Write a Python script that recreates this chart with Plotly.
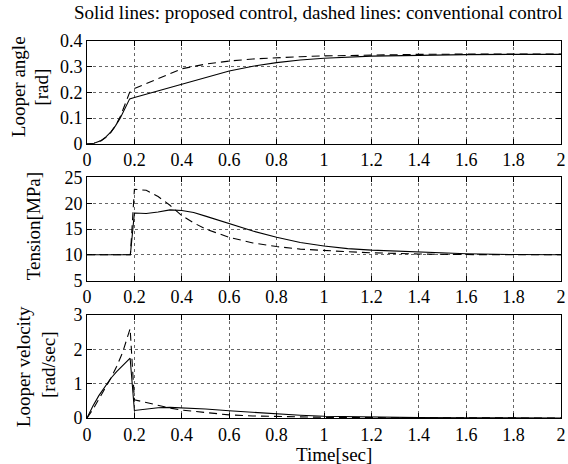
import plotly.graph_objects as go

# ---------------- data ----------------
t_ang = [0, 0.03, 0.06, 0.08, 0.10, 0.12, 0.14, 0.16, 0.18, 0.20, 0.30, 0.40, 0.50,
         0.60, 0.70, 0.80, 0.90, 1.00, 1.20, 1.40, 1.60, 1.80, 2.00]
ang_solid = [0, 0.002, 0.013, 0.027, 0.046, 0.070, 0.100, 0.135, 0.175, 0.180, 0.206,
             0.232, 0.260, 0.283, 0.302, 0.316, 0.326, 0.333, 0.341, 0.345, 0.347, 0.348, 0.348]
ang_dashed = [0, 0.002, 0.012, 0.025, 0.044, 0.070, 0.105, 0.150, 0.200, 0.215, 0.255,
              0.292, 0.310, 0.322, 0.330, 0.335, 0.339, 0.342, 0.346, 0.348, 0.349, 0.349, 0.349]

t_ten = [0, 0.183, 0.20, 0.25, 0.30, 0.35, 0.40, 0.45, 0.50, 0.60, 0.70, 0.80, 0.90,
         1.00, 1.10, 1.20, 1.40, 1.60, 1.80, 2.00]
ten_solid = [10, 10, 18.1, 18.0, 18.3, 18.7, 18.6, 18.2, 17.5, 16.0, 14.6, 13.4, 12.4,
             11.7, 11.2, 10.9, 10.5, 10.2, 10.05, 10.0]
ten_dashed = [10, 10, 22.7, 22.5, 21.3, 19.6, 17.6, 16.2, 15.0, 13.4, 12.3, 11.6, 11.1,
              10.8, 10.6, 10.4, 10.15, 10.05, 10.0, 10.0]

t_vel = [0, 0.025, 0.05, 0.075, 0.10, 0.125, 0.15, 0.182, 0.20, 0.25, 0.30, 0.35, 0.40,
         0.50, 0.60, 0.70, 0.80, 0.90, 1.00, 1.20, 1.40, 1.60, 2.00]
vel_solid = [0, 0.35, 0.65, 0.92, 1.15, 1.35, 1.52, 1.74, 0.22, 0.27, 0.30, 0.31, 0.30,
             0.26, 0.21, 0.16, 0.12, 0.08, 0.05, 0.02, 0.01, 0.005, 0]
vel_dashed = [0, 0.25, 0.55, 0.85, 1.15, 1.50, 1.90, 2.60, 0.53, 0.45, 0.36, 0.29, 0.23,
              0.15, 0.09, 0.06, 0.04, 0.03, 0.02, 0.01, 0.005, 0, 0]

x_ticks = [0, 0.2, 0.4, 0.6, 0.8, 1, 1.2, 1.4, 1.6, 1.8, 2]
x_ticklabels = ["0", "0.2", "0.4", "0.6", "0.8", "1", "1.2", "1.4", "1.6", "1.8", "2"]
y1_ticks = [0, 0.1, 0.2, 0.3, 0.4]
y1_ticklabels = ["0", "0.1", "0.2", "0.3", "0.4"]
y2_ticks = [5, 10, 15, 20, 25]
y3_ticks = [0, 1, 2, 3]

title_text = "Solid lines: proposed control, dashed lines: conventional control"
xlabel = "Time[sec]"

# ---------------- figure ----------------
FONT = "Liberation Serif"
TICKFONT = "Times New Roman"
fig = go.Figure()

def add_pair(t, ys, yd, xa, ya):
    fig.add_trace(go.Scatter(x=t, y=ys, mode="lines", xaxis=xa, yaxis=ya,
                             line=dict(color="black", width=1.1), showlegend=False))
    fig.add_trace(go.Scatter(x=t, y=yd, mode="lines", xaxis=xa, yaxis=ya,
                             line=dict(color="black", width=1.1, dash="8px,5px"), showlegend=False))

add_pair(t_ang, ang_solid, ang_dashed, "x", "y")
add_pair(t_ten, ten_solid, ten_dashed, "x2", "y2")
add_pair(t_vel, vel_solid, vel_dashed, "x3", "y3")

axis_common = dict(showline=True, linecolor="black", linewidth=1, mirror="ticks",
                   ticks="inside", ticklen=5, tickcolor="black", tickwidth=1,
                   showgrid=True, gridcolor="#666", griddash="dot", gridwidth=1,
                   zeroline=False, ticklabeloverflow="allow",
                   tickfont=dict(family=TICKFONT, size=18, color="black"))

doms = [(0.7272, 1.0), (0.3644, 0.6382), (0.0, 0.2736)]
layout = dict(width=568, height=464, plot_bgcolor="white", paper_bgcolor="white",
              margin=dict(l=87, r=2, t=41, b=46), showlegend=False,
              font=dict(family=FONT, size=19, color="black"))
for i, (d0, d1) in enumerate(doms):
    sfx = "" if i == 0 else str(i + 1)
    anchor_y = "y" + sfx
    layout["xaxis" + sfx] = dict(axis_common, range=[0, 2], domain=[0, 1], anchor=anchor_y,
                                 tickvals=x_ticks, ticktext=x_ticklabels)
layout["yaxis"] = dict(axis_common, range=[0, 0.4], domain=list(doms[0]), anchor="x",
                       tickvals=y1_ticks, ticktext=y1_ticklabels)
layout["yaxis2"] = dict(axis_common, range=[5, 25], domain=list(doms[1]), anchor="x2",
                        tickvals=y2_ticks)
layout["yaxis3"] = dict(axis_common, range=[0, 3], domain=list(doms[2]), anchor="x3",
                        tickvals=y3_ticks)
fig.update_layout(**layout)

PLOT_H = 464 - 41 - 46
def ypix_to_paper(py):
    return (464 - 46 - py) / PLOT_H

ann = []
ann.append(dict(text=title_text, xref="paper", yref="paper", x=1, y=1, xanchor="right",
                yanchor="middle", yshift=29, xshift=4, showarrow=False,
                font=dict(family=FONT, size=19)))
ann.append(dict(text=xlabel, xref="paper", yref="paper", x=0.5, y=0, xanchor="center",
                yanchor="middle", yshift=-36, xshift=10, showarrow=False, font=dict(family=FONT, size=19)))
ylabels = [("Looper angle", 18.5, 86.7), ("[rad]", 42, 87.7),
           ("Tension[MPa]", 33.3, 226), ("Looper velocity", 23.5, 366.7),
           ("[rad/sec]", 48, 365)]
for txt, px, py in ylabels:
    ann.append(dict(text=txt, xref="paper", yref="paper", x=0, y=ypix_to_paper(py),
                    xanchor="center", yanchor="middle", xshift=px - 87, textangle=-90,
                    showarrow=False, font=dict(family=FONT, size=19)))
fig.update_layout(annotations=ann)

fig.write_html("out.html", config={"displayModeBar": False},
               post_script="document.body.style.margin='0';document.body.style.overflow='hidden';")
